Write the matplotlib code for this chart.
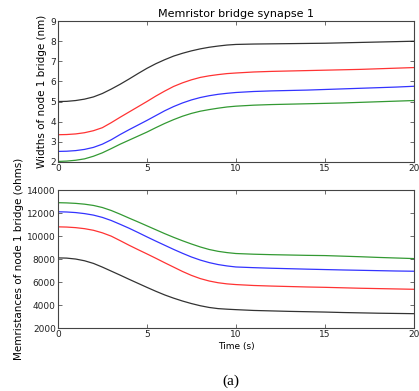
import numpy as np
import matplotlib
matplotlib.use("Agg")
import matplotlib.pyplot as plt

# Time samples (s)
t = [0, 0.5, 1, 1.5, 2, 2.5, 3, 3.5, 4, 4.5, 5, 5.5, 6, 6.5, 7, 7.5, 8, 8.5, 9, 9.5, 10,
     11, 12, 13, 14, 15, 16, 17, 18, 19, 20]

# Widths of node 1 bridge (nm)
w_black = [5.0, 5.01, 5.05, 5.12, 5.23, 5.4, 5.62, 5.86, 6.12, 6.39, 6.65, 6.88, 7.08, 7.26, 7.4, 7.52, 7.62, 7.7, 7.76, 7.81, 7.84,
           7.86, 7.87, 7.88, 7.89, 7.9, 7.92, 7.94, 7.96, 7.98, 8.0]
w_red = [3.35, 3.36, 3.39, 3.45, 3.55, 3.7, 3.95, 4.22, 4.48, 4.74, 5.0, 5.27, 5.52, 5.75, 5.93, 6.08, 6.2, 6.28, 6.34, 6.39, 6.42,
         6.47, 6.5, 6.52, 6.54, 6.56, 6.58, 6.6, 6.63, 6.66, 6.69]
w_blue = [2.52, 2.53, 2.56, 2.62, 2.72, 2.88, 3.1, 3.36, 3.6, 3.83, 4.06, 4.3, 4.54, 4.75, 4.93, 5.08, 5.2, 5.29, 5.36, 5.41, 5.45,
          5.5, 5.53, 5.55, 5.57, 5.6, 5.63, 5.66, 5.69, 5.72, 5.76]
w_green = [2.02, 2.04, 2.08, 2.15, 2.28, 2.45, 2.66, 2.88, 3.08, 3.28, 3.48, 3.7, 3.91, 4.1, 4.27, 4.41, 4.52, 4.6, 4.67, 4.73, 4.77,
           4.82, 4.85, 4.87, 4.89, 4.91, 4.93, 4.96, 4.99, 5.02, 5.05]

# Memristances of node 1 bridge (ohms)
m_green = [12900, 12880, 12840, 12770, 12660, 12480, 12220, 11900, 11560, 11230, 10890, 10550, 10210, 9890, 9590, 9310, 9050, 8830, 8670, 8560, 8480,
           8420, 8380, 8350, 8320, 8300, 8250, 8200, 8140, 8090, 8040]
m_blue = [12110, 12090, 12040, 11950, 11820, 11620, 11350, 11020, 10680, 10310, 9930, 9560, 9200, 8840, 8500, 8180, 7910, 7690, 7520, 7400, 7310,
          7250, 7200, 7160, 7120, 7085, 7050, 7020, 6990, 6960, 6940]
m_red = [10800, 10780, 10730, 10640, 10500, 10280, 9990, 9600, 9200, 8820, 8450, 8070, 7680, 7300, 6920, 6580, 6300, 6090, 5940, 5840, 5780,
         5700, 5650, 5610, 5570, 5540, 5500, 5460, 5430, 5400, 5370]
m_black = [8100, 8080, 8000, 7850, 7620, 7300, 6950, 6600, 6240, 5890, 5540, 5200, 4880, 4600, 4350, 4130, 3940, 3790, 3690, 3640, 3600,
           3530, 3490, 3450, 3420, 3390, 3350, 3320, 3290, 3270, 3250]

green = (0, 0.5, 0)

fig = plt.figure(figsize=(4.19, 3.91), dpi=100)
ax1 = fig.add_axes([0.138, 0.586, 0.850, 0.360])
ax2 = fig.add_axes([0.138, 0.161, 0.850, 0.353])

ax1.plot(t, w_black, color='k', lw=0.9, alpha=0.8)
ax1.plot(t, w_red, color='r', lw=0.9, alpha=0.8)
ax1.plot(t, w_blue, color='b', lw=0.9, alpha=0.8)
ax1.plot(t, w_green, color=green, lw=0.9, alpha=0.8)
ax1.set_xlim(0, 20)
ax1.set_ylim(2, 9)
ax1.set_xticks([0, 5, 10, 15, 20])
ax1.set_yticks(range(2, 10))
ax1.set_ylabel("Widths of node 1 bridge (nm)", fontsize=7.5, labelpad=2)
ax1.set_title("Memristor bridge synapse 1", fontsize=8, pad=3)

ax2.plot(t, m_green, color=green, lw=0.9, alpha=0.8)
ax2.plot(t, m_blue, color='b', lw=0.9, alpha=0.8)
ax2.plot(t, m_red, color='r', lw=0.9, alpha=0.8)
ax2.plot(t, m_black, color='k', lw=0.9, alpha=0.8)
ax2.set_xlim(0, 20)
ax2.set_ylim(2000, 14000)
ax2.set_xticks([0, 5, 10, 15, 20])
ax2.set_yticks(range(2000, 14001, 2000))
ax2.set_ylabel("Memristances of node 1 bridge (ohms)", fontsize=7.5, labelpad=2)
ax2.set_xlabel("Time (s)", fontsize=6.5, labelpad=2)

for ax in (ax1, ax2):
    ax.tick_params(direction='in', top=True, right=True, labelsize=6.5,
                   length=3, width=0.5, pad=1.5, colors='#333333', labelcolor='#222222')
    for s in ax.spines.values():
        s.set_linewidth(0.8)
        s.set_color('#444444')

fig.text(0.551, 0.015, "(a)", fontsize=11, family='Liberation Serif', ha='center')

fig.savefig("out.png", dpi=100)
